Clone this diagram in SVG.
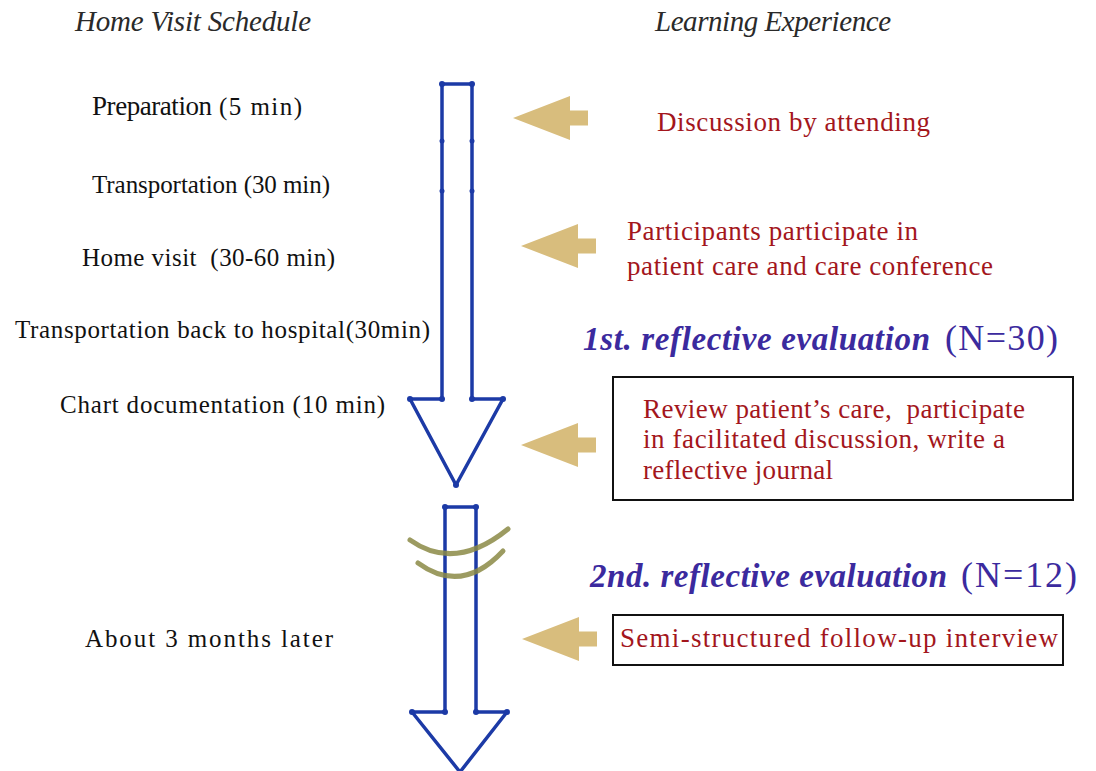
<svg xmlns="http://www.w3.org/2000/svg" xmlns:xlink="http://www.w3.org/1999/xlink" width="1096" height="771" viewBox="0 0 1096 771">
<style>
.hdr{font-family:"Liberation Serif",serif;font-style:italic;font-size:29px;fill:#2a2a2a}
.lt{font-family:"Liberation Serif",serif;font-size:25px;fill:#111}
.rt{font-family:"Liberation Serif",serif;font-size:27px;fill:#a3161c}
.ev{font-family:"Liberation Serif",serif;font-style:italic;font-weight:bold;font-size:33px;fill:#3b2a9e}
.evn{font-family:"Liberation Serif",serif;font-size:36px;fill:#3b2a9e}
.box{fill:#fff;stroke:#111;stroke-width:2}
.blue{fill:none;stroke:#1c3aa6;stroke-width:3.5;stroke-linejoin:round}
.dot{fill:#1c3aa6}
.tan{fill:#d8bd7d}
.arc{fill:none;stroke:#8b8a45;stroke-width:5;stroke-linecap:round;opacity:0.85}
</style>
<defs>
<path id="tanArrow" class="tan" d="M0,0 L57,-22 L57,-7.5 L75,-7.5 L75,7.5 L57,7.5 L57,22 Z"/>
</defs>
<rect width="1096" height="771" fill="#fff"/>

<g id="headers">
<text class="hdr" x="75" y="31" textLength="236">Home Visit Schedule</text>
<text class="hdr" x="655" y="31" textLength="236">Learning Experience</text>
</g>

<g id="timeline">
<path class="blue" d="M442,84 L472,84 L472,399 L503,399 L456,485 L410,399 L442,399 Z"/>
<g class="dot">
<circle cx="442" cy="84" r="3"/><circle cx="472" cy="84" r="3"/>
<circle cx="442" cy="141" r="2.5"/><circle cx="472" cy="141" r="2.5"/>
<circle cx="442" cy="191" r="2.5"/><circle cx="472" cy="191" r="2.5"/>
<circle cx="442" cy="399" r="3"/><circle cx="472" cy="399" r="3"/>
<circle cx="410" cy="399" r="3"/><circle cx="503" cy="399" r="3"/>
<circle cx="456" cy="485" r="3"/>
</g>
<path class="blue" d="M445,507 L476,507 L476,712 L507,712 L460,772 L412,712 L445,712 Z"/>
<g class="dot">
<circle cx="445" cy="507" r="3"/><circle cx="476" cy="507" r="3"/>
<circle cx="445" cy="712" r="3"/><circle cx="476" cy="712" r="3"/>
<circle cx="412" cy="712" r="3"/><circle cx="507" cy="712" r="3"/>
</g>
<path class="arc" d="M410,540 Q455,572 508,529"/>
<path class="arc" d="M418,563 Q462,595 503,551"/>
</g>

<g id="schedule">
<text class="lt" x="92" y="115"><tspan font-size="27" textLength="120">Preparation</tspan><tspan x="219" textLength="83">(5 min)</tspan></text>
<text class="lt" x="92" y="193" textLength="238">Transportation (30 min)</text>
<text class="lt" x="82" y="266" xml:space="preserve" textLength="253">Home visit  (30-60 min)</text>
<text class="lt" x="15" y="338" textLength="415">Transportation back to hospital(30min)</text>
<text class="lt" x="60" y="413" textLength="325">Chart documentation (10 min)</text>
<text class="lt" x="85" y="647" font-size="27" textLength="248">About 3 months later</text>
</g>

<g id="connectors">
<use xlink:href="#tanArrow" x="513" y="118"/>
<use xlink:href="#tanArrow" x="521" y="246"/>
<use xlink:href="#tanArrow" x="521" y="445"/>
<use xlink:href="#tanArrow" x="522" y="639"/>
</g>

<g id="discussion">
<text class="rt" x="657" y="131" textLength="273">Discussion by attending</text>
</g>

<g id="participate">
<text class="rt" x="627" y="240" textLength="291">Participants participate in</text>
<text class="rt" x="627" y="275" textLength="366">patient care and care conference</text>
</g>

<g id="eval1">
<text x="583" y="350"><tspan class="ev" textLength="347">1st. reflective evaluation</tspan><tspan class="evn" x="945" textLength="113">(N=30)</tspan></text>
</g>

<g id="review">
<rect class="box" x="613" y="377" width="460" height="123"/>
<text class="rt" x="643" y="418" xml:space="preserve" textLength="382">Review patient’s care,  participate</text>
<text class="rt" x="643" y="448" textLength="362">in facilitated discussion, write a</text>
<text class="rt" x="643" y="479" textLength="190">reflective journal</text>
</g>

<g id="eval2">
<text x="590" y="587"><tspan class="ev" textLength="357">2nd. reflective evaluation</tspan><tspan class="evn" x="961" textLength="116">(N=12)</tspan></text>
</g>

<g id="interview">
<rect class="box" x="613" y="615" width="450" height="50"/>
<text class="rt" x="620" y="647" font-size="28" textLength="438">Semi-structured follow-up interview</text>
</g>
</svg>
